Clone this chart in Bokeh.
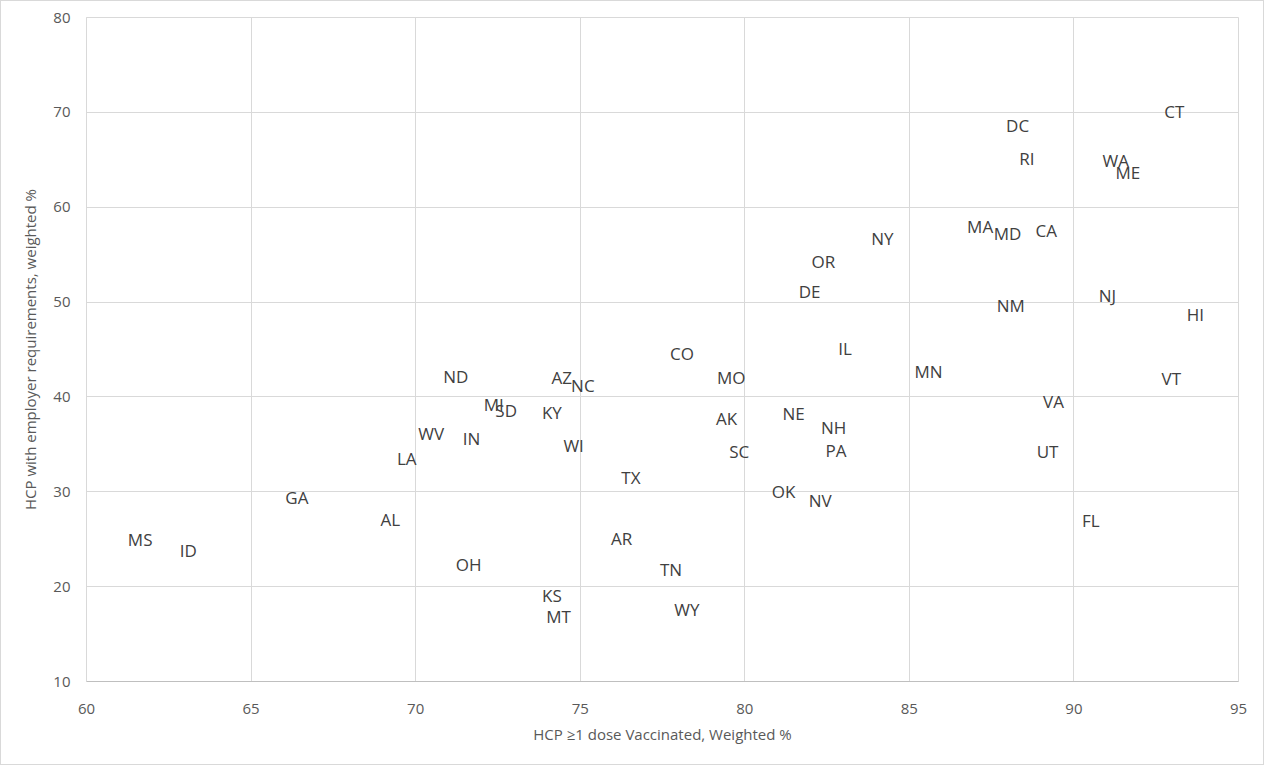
# Scatter of state labels: HCP vaccination vs employer requirements
from bokeh.core.properties import value
from bokeh.embed import file_html
from bokeh.models import ColumnDataSource, FixedTicker
from bokeh.plotting import figure
from bokeh.resources import INLINE

# State abbreviations with (vaccinated %, employer requirement %)
states = ['MS', 'ID', 'GA', 'AL', 'LA', 'WV', 'IN', 'ND', 'OH', 'MI',
          'SD', 'KY', 'AZ', 'NC', 'WI', 'KS', 'MT', 'TX', 'AR', 'TN',
          'WY', 'CO', 'MO', 'AK', 'SC', 'OK', 'NV', 'NE', 'NH', 'PA',
          'DE', 'OR', 'IL', 'NY', 'MN', 'MA', 'MD', 'CA', 'NM', 'DC',
          'RI', 'UT', 'VA', 'FL', 'NJ', 'WA', 'ME', 'CT', 'HI', 'VT']
vaccinated = [61.63, 63.09, 66.39, 69.23, 69.73, 70.47, 71.70, 71.22, 71.61, 72.37,
              72.75, 74.14, 74.44, 75.08, 74.80, 74.14, 74.34, 76.54, 76.26, 77.76,
              78.24, 78.09, 79.59, 79.45, 79.83, 81.18, 82.29, 81.48, 82.70, 82.77,
              81.97, 82.39, 83.05, 84.18, 85.58, 87.15, 87.98, 89.16, 88.08, 88.29,
              88.57, 89.20, 89.38, 90.51, 91.02, 91.27, 91.64, 93.05, 93.69, 92.96]
employer_req = [25.00, 23.84, 29.37, 27.08, 33.51, 36.14, 35.59, 42.18, 22.37, 39.23,
                38.54, 38.39, 42.05, 41.17, 34.88, 19.03, 16.82, 31.47, 25.07, 21.84,
                17.62, 44.58, 42.05, 37.73, 34.25, 30.00, 29.05, 38.25, 36.78, 34.32,
                51.08, 54.31, 45.10, 56.67, 42.65, 58.00, 57.23, 57.58, 49.61, 68.61,
                65.14, 34.21, 39.48, 26.94, 50.69, 64.96, 63.63, 70.06, 48.69, 41.97]

x_ticks = [60, 65, 70, 75, 80, 85, 90, 95]
y_ticks = [10, 20, 30, 40, 50, 60, 70, 80]

source = ColumnDataSource(data={'x': vaccinated, 'y': employer_req, 'state': states})

p = figure(width=1264, height=765, x_range=(60, 95), y_range=(10, 80),
           output_backend="svg", toolbar_location=None, tools="",
           min_border_left=85, min_border_right=27, min_border_top=16, min_border_bottom=85)
p.styles = {"border": "1px solid #d9d9d9"}

grid_color = "#d9d9d9"
p.outline_line_color = grid_color
p.xgrid.grid_line_color = grid_color
p.ygrid.grid_line_color = grid_color

p.xaxis.ticker = FixedTicker(ticks=x_ticks)
p.yaxis.ticker = FixedTicker(ticks=y_ticks)

for ax in (p.xaxis[0], p.yaxis[0]):
    ax.axis_line_color = grid_color
    ax.major_tick_line_color = None
    ax.minor_tick_line_color = None
    ax.major_tick_out = 0
    ax.major_label_text_font = "Open Sans"
    ax.major_label_text_font_size = "15px"
    ax.major_label_text_color = "#595959"
    ax.axis_label_text_font = "Open Sans"
    ax.axis_label_text_font_size = "15px"
    ax.axis_label_text_font_style = "normal"
    ax.axis_label_text_color = "#595959"

p.xaxis.axis_line_color = "#bfbfbf"
p.xaxis.major_label_standoff = 22
p.xaxis.axis_label_standoff = 7
p.yaxis.major_label_standoff = 16
p.yaxis.axis_label_standoff = 10
p.xaxis.axis_label = "HCP \u22651 dose Vaccinated, Weighted %"
p.yaxis.axis_label = "HCP with employer requirements, weighted %"

p.text(x='x', y='y', text='state', source=source,
       text_align="center", text_baseline="middle",
       text_font=value("Open Sans"), text_font_size="17px", text_color="#404040")

open("out.html", "w").write(file_html(p, INLINE))
